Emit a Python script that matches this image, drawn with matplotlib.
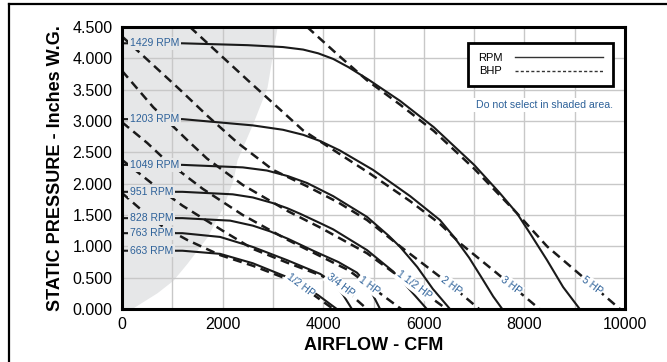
import numpy as np
import matplotlib.pyplot as plt
from matplotlib.lines import Line2D

plt.rcParams['font.family'] = ['Liberation Sans', 'DejaVu Sans']

# --- fan curves (CFM vs static pressure, in. W.G.) ---
rpm_names = ["1429 RPM", "1203 RPM", "1049 RPM", "951 RPM", "828 RPM", "763 RPM", "663 RPM"]

cfm_1429 = [0, 1200, 2500, 3200, 3600, 3900, 4200, 4500, 4900, 5530, 6200, 7000, 7500, 7850, 8110, 8450, 8770, 9100]
sp_1429 = [4.24, 4.24, 4.21, 4.18, 4.14, 4.08, 3.99, 3.86, 3.66, 3.32, 2.90, 2.30, 1.86, 1.53, 1.21, 0.78, 0.35, 0.0]

cfm_1203 = [0, 1200, 2600, 3200, 3600, 3940, 4330, 4990, 5730, 6320, 6600, 6900, 7150, 7380, 7560]
sp_1203 = [3.03, 3.03, 2.93, 2.86, 2.78, 2.68, 2.53, 2.22, 1.80, 1.42, 1.15, 0.82, 0.50, 0.20, 0.0]

cfm_1049 = [0, 1200, 2400, 2880, 3300, 3680, 4200, 4870, 5300, 5530, 5870, 6180, 6520]
sp_1049 = [2.30, 2.30, 2.26, 2.21, 2.12, 2.01, 1.80, 1.47, 1.17, 0.99, 0.67, 0.32, 0.0]

cfm_951 = [0, 1200, 2200, 2600, 3000, 3280, 3540, 3940, 4200, 4870, 5390, 5730, 6060]
sp_951 = [1.87, 1.87, 1.83, 1.78, 1.69, 1.61, 1.52, 1.37, 1.27, 0.94, 0.60, 0.30, 0.0]

cfm_828 = [0, 1200, 2150, 2600, 2940, 3300, 3800, 4300, 4670, 4850, 4990, 5130]
sp_828 = [1.45, 1.45, 1.41, 1.33, 1.24, 1.12, 0.93, 0.75, 0.58, 0.42, 0.22, 0.0]

cfm_763 = [0, 1200, 1950, 2600, 3280, 3940, 4200, 4400, 4570]
sp_763 = [1.21, 1.21, 1.15, 0.99, 0.78, 0.56, 0.42, 0.22, 0.0]

cfm_663 = [0, 1200, 1950, 2600, 3280, 3540, 3900, 4270]
sp_663 = [0.93, 0.93, 0.88, 0.73, 0.51, 0.40, 0.22, 0.0]

# --- brake horsepower lines ---
hp_names = ["5 HP", "3 HP", "2 HP", "1 1/2 HP", "1 HP", "3/4 HP", "1/2 HP"]

cfm_5hp = [3680, 4300, 4870, 5530, 6200, 7000, 7850, 8450, 9105, 9900]
sp_5hp = [4.5, 4.05, 3.65, 3.26, 2.84, 2.24, 1.53, 1.0, 0.55, 0.0]

cfm_3hp = [1350, 2500, 3600, 4930, 5730, 6320, 6720, 7455, 8300]
sp_3hp = [4.5, 3.65, 2.85, 2.16, 1.72, 1.36, 1.05, 0.57, 0.0]

cfm_2hp = [0, 1150, 1700, 2300, 3000, 3700, 4300, 4870, 5530, 6540, 7100]
sp_2hp = [4.35, 3.5, 3.08, 2.65, 2.22, 1.95, 1.70, 1.42, 1.0, 0.38, 0.0]

cfm_15hp = [0, 620, 1290, 1690, 2400, 3300, 3940, 4870, 5400, 5805, 6450]
sp_15hp = [3.80, 3.22, 2.70, 2.40, 1.98, 1.56, 1.30, 0.89, 0.58, 0.38, 0.0]

cfm_1hp = [0, 500, 900, 1600, 2400, 3300, 3900, 4500, 4910, 5550]
sp_1hp = [2.98, 2.65, 2.35, 1.92, 1.50, 1.10, 0.86, 0.62, 0.38, 0.0]

cfm_34hp = [0, 600, 1200, 2000, 2600, 3280, 3940, 4334, 4870]
sp_34hp = [2.38, 2.0, 1.65, 1.25, 0.96, 0.74, 0.54, 0.38, 0.0]

cfm_12hp = [0, 400, 800, 1300, 1950, 2600, 3280, 3540, 4200]
sp_12hp = [1.85, 1.57, 1.32, 1.10, 0.86, 0.69, 0.48, 0.38, 0.0]

# label spots on the HP lines
hp_label_cfm = [9344, 7734, 6541, 5805, 4910, 4334, 3539]
hp_label_sp = [0.38, 0.38, 0.38, 0.38, 0.38, 0.38, 0.38]

# "do not select" region boundary
shade_sp = [0, 0.02, 0.26, 0.46, 0.73, 1.15, 1.63, 2.06, 2.38, 2.97, 3.54, 4.5]
shade_cfm = [150, 220, 696, 1014, 1292, 1690, 2008, 2207, 2286, 2604, 2883, 3082]

blue = '#2d6199'
shade = '#e6e7e8'

fig = plt.figure(figsize=(6.67, 3.62), dpi=100)
ax = fig.add_axes([0.183, 0.1464, 0.754, 0.779])

ax.fill_betweenx(shade_sp, 0, shade_cfm, color=shade, lw=0, zorder=0)

rpm_curves = [(cfm_1429, sp_1429), (cfm_1203, sp_1203), (cfm_1049, sp_1049),
              (cfm_951, sp_951), (cfm_828, sp_828), (cfm_763, sp_763), (cfm_663, sp_663)]
hp_curves = [(cfm_5hp, sp_5hp), (cfm_3hp, sp_3hp), (cfm_2hp, sp_2hp), (cfm_15hp, sp_15hp),
             (cfm_1hp, sp_1hp), (cfm_34hp, sp_34hp), (cfm_12hp, sp_12hp)]

for x, y in hp_curves:
    ax.plot(x, y, color='#1a1a1a', lw=1.8, ls=(0, (3.6, 2.2)), zorder=3, solid_capstyle='butt')

for x, y in rpm_curves:
    ax.plot(x, y, color='#1a1a1a', lw=1.5, zorder=4, solid_joinstyle='round')

for name, (x, y) in zip(rpm_names, rpm_curves):
    ax.text(160, y[0], name, color=blue, fontsize=7.5, ha='left', va='center', zorder=6,
            bbox=dict(facecolor=shade, edgecolor='none', pad=1.2))

for name, x, y in zip(hp_names, hp_label_cfm, hp_label_sp):
    ax.text(x, y, name, color=blue, fontsize=7.5, ha='center', va='center', rotation=-37,
            rotation_mode='anchor', zorder=6,
            bbox=dict(facecolor='white', edgecolor='none', pad=1.0))

ax.text(0.839, 0.723, "Do not select in shaded area.", transform=ax.transAxes, color=blue,
        fontsize=7.6, ha='center', va='center', zorder=6,
        bbox=dict(facecolor='white', edgecolor='none', pad=1.5))

handles = [Line2D([], [], color='#333333', lw=1.0),
           Line2D([], [], color='#333333', lw=1.0, ls=(0, (2.2, 1.6)))]
leg = ax.legend(handles, ["RPM", "BHP"], loc='upper right', bbox_to_anchor=(0.976, 0.943),
                borderaxespad=0, markerfirst=False, handlelength=8.0, handletextpad=1.1,
                fontsize=8, labelspacing=0.35, borderpad=0.85, fancybox=False, framealpha=1)
leg.get_frame().set_edgecolor('black')
leg.get_frame().set_linewidth(2.0)
leg.set_zorder(7)

ax.set_xlim(0, 10000)
ax.set_ylim(0, 4.5)
ax.set_xticks(np.arange(0, 10001, 1000), minor=False)
ax.set_xticklabels([str(v) if v % 2000 == 0 else '' for v in range(0, 10001, 1000)])
ax.set_yticks(np.arange(0, 4.51, 0.5))
ax.set_yticklabels(['%.3f' % v for v in np.arange(0, 4.51, 0.5)])
ax.tick_params(length=0, labelsize=11.5, pad=6)
ax.tick_params(axis='y', pad=7)
ax.grid(True, color='#c8c8c8', lw=1.0, zorder=1)
ax.set_axisbelow(True)
for s in ax.spines.values():
    s.set_linewidth(2.2)
    s.set_zorder(8)

ax.set_xlabel("AIRFLOW - CFM", fontsize=13, fontweight='bold', labelpad=3)
ax.set_ylabel("STATIC PRESSURE - Inches W.G.", fontsize=13, fontweight='bold', labelpad=6)

# partial outer frame (top and left)
fig.add_artist(Line2D([0.0135, 1.0], [0.9876, 0.9876], transform=fig.transFigure, color='black', lw=1.6))
fig.add_artist(Line2D([0.0135, 0.0135], [0.0, 0.9876], transform=fig.transFigure, color='black', lw=1.6))

fig.savefig('out.png', dpi=100)
